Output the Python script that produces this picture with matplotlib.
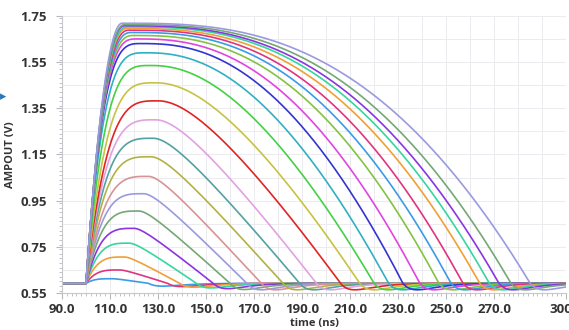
import numpy as np
import matplotlib.pyplot as plt
from matplotlib.ticker import MultipleLocator, FixedLocator

plt.rcParams['font.family'] = ['Open Sans', 'DejaVu Sans']

# values (one entry per trace, bottom to top)
base_v = 0.592
peak_v = [0.612, 0.650, 0.706, 0.766, 0.830, 0.905, 0.980, 1.055, 1.140,
          1.220, 1.300, 1.382, 1.460, 1.535, 1.590, 1.630, 1.650, 1.665,
          1.678, 1.688, 1.695, 1.702, 1.707, 1.712, 1.718]
peak_t = [111, 114, 116, 118, 120, 122, 124, 126, 127, 128, 129, 130, 129,
          127, 125, 123, 121, 120, 119, 118, 117, 117, 116, 116, 115]
end_t = [126, 134, 139, 146, 153, 160, 167, 173, 182, 189, 196, 206, 214,
         220, 226, 232, 239, 247, 252, 257, 264, 268, 272, 277, 285]
pulse_start = 100.0
undershoot = 0.028

colors = ['#3b9be6', '#e0357e', '#f0a035', '#35d6a0', '#8a35e0', '#74a874',
          '#9a9ae0', '#d89494', '#b2b244', '#52a2a2', '#e0a2e0', '#e02424',
          '#c8c242', '#45d045', '#30b0c0', '#3434d0', '#e045e0', '#84c244']

x_ticks = [90, 110, 130, 150, 170, 190, 210, 230, 250, 270, 300]
y_ticks = [0.55, 0.75, 0.95, 1.15, 1.35, 1.55, 1.75]


def trace(t, vpk, tpk, tend):
    a = vpk - base_v
    frac = a / (max(peak_v) - base_v)
    q = np.clip(0.15 * (tpk - pulse_start) / a, 2.0, 3.5)
    n = 2.0 + frac ** 6
    k = 0.15 + 1.4 * frac ** 6
    y = np.full_like(t, base_v)
    r = (t - pulse_start) / (tpk - pulse_start)
    m = (t >= pulse_start) & (t < tpk)
    y[m] = base_v + a * (1 - (1 - r[m]) ** q)
    f = (t - tpk) / (tend - tpk)
    m = (t >= tpk) & (t < tend)
    y[m] = base_v + a * (1 - (1 + k) * f[m] ** n / (f[m] + k))
    x = (t - tend) / 6.0
    m = t >= tend
    d = undershoot * min(1.0, 0.4 + 2 * frac)
    y[m] = base_v - d * np.e * x[m] * np.exp(-x[m])
    return y


t = np.linspace(90, 300, 2101)

fig = plt.figure(figsize=(5.69, 3.30), dpi=100)
ax = fig.add_axes([0.109, 0.112, 0.886, 0.840])

for i in range(len(peak_v)):
    ax.plot(t, trace(t, peak_v[i], peak_t[i], end_t[i]),
            color=colors[i % len(colors)], lw=1.2, solid_capstyle='round')

ax.set_xlim(90, 300)
ax.set_ylim(0.55, 1.75)
ax.xaxis.set_major_locator(FixedLocator(x_ticks))
ax.set_xticklabels([f'{v:.1f}' for v in x_ticks])
ax.xaxis.set_minor_locator(MultipleLocator(2))
ax.yaxis.set_major_locator(FixedLocator(y_ticks))
ax.set_yticklabels([f'{v:.2f}' for v in y_ticks])
ax.yaxis.set_minor_locator(MultipleLocator(0.02))

for xv in np.arange(90, 301, 10):
    ax.axvline(xv, color='#ebebf0', lw=0.7, zorder=0)
for yv in np.arange(0.55, 1.76, 0.1):
    ax.axhline(yv, color='#ebebf0', lw=0.7, zorder=0)

for s in ['top', 'right']:
    ax.spines[s].set_visible(False)
for s in ['left', 'bottom']:
    ax.spines[s].set_color('#c8c8cc')
ax.tick_params(which='both', colors='#b8b8bc', labelcolor='#333333')
ax.tick_params(which='major', length=4, labelsize=9.5)
ax.tick_params(axis='y', which='major', pad=7)
ax.tick_params(which='minor', length=2)
for lab in ax.get_xticklabels() + ax.get_yticklabels():
    lab.set_fontweight('bold')

ax.set_xlabel('time (ns)', fontsize=8, fontweight='bold', color='#333333', labelpad=1)
ax.set_ylabel('AMPOUT (V)', fontsize=8, fontweight='bold', color='#333333', labelpad=3)

fig.text(0.0, 1 - 97 / 330, '\u25B8', color='#2a78b8', fontsize=9, va='center', ha='left')

fig.savefig('out.png', dpi=100)
